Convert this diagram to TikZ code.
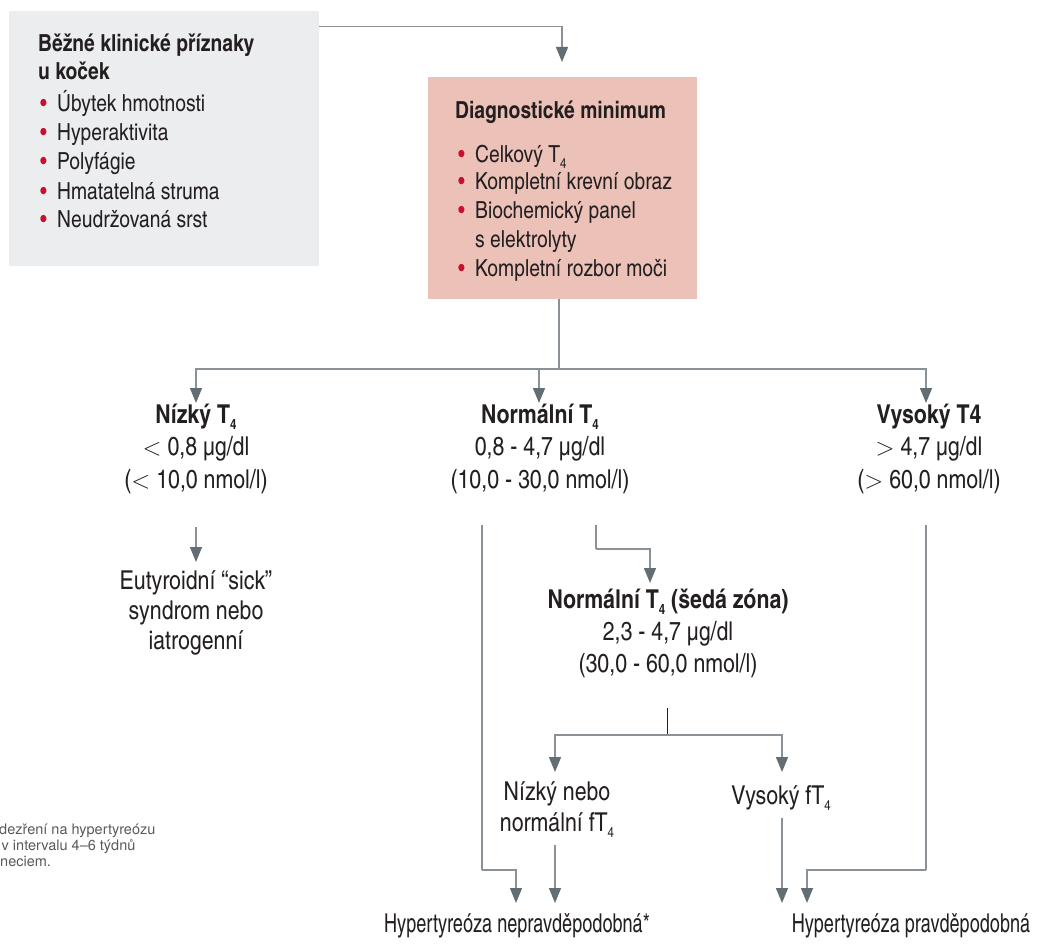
\documentclass[tikz,border=0pt]{standalone}
\usepackage{fontspec}
\setmainfont{texgyreheroscn}[Extension=.otf,UprightFont=*-regular,BoldFont=*-bold,ItalicFont=*-italic,BoldItalicFont=*-bolditalic]
\newfontfamily\cnnarrow{texgyreheroscn}[Extension=.otf,UprightFont=*-regular,FakeStretch=0.85]
\newfontfamily\notefont{TeX Gyre Heros}
\usetikzlibrary{arrows.meta}
\definecolor{txtc}{HTML}{231F20}
\definecolor{linec}{HTML}{8A9298}
\definecolor{tipc}{HTML}{636D74}
\definecolor{bulc}{HTML}{C8102E}
\definecolor{grayfill}{HTML}{ECEDEF}
\definecolor{pinkfill}{HTML}{EBC1B8}
\definecolor{notec}{HTML}{58595B}
\newcommand\tfour{\raisebox{-6pt}{\fontsize{14}{14}\selectfont 4}}
\newcommand\bul{\makebox[17pt][l]{\textcolor{bulc}{\textbullet}}}
\begin{document}
\begin{tikzpicture}[x=1pt,y=-1pt,
  ln/.style={draw=linec,line width=1.4pt},
  blk/.style={draw=txtc,line width=1pt},
  arr/.style={ln,-{Triangle[width=12pt,length=15pt,color=tipc]}},
  lbl/.style={inner sep=0pt,anchor=base,text=txtc},
  hd/.style={lbl,font=\fontsize{26}{30}\selectfont\bfseries},
  bd/.style={lbl,font=\fontsize{26}{30}\selectfont},
  bt/.style={lbl,font=\cnnarrow\fontsize{26}{30}\selectfont},
  bx/.style={lbl,anchor=base west,font=\fontsize{23.5}{28}\selectfont},
  bxb/.style={bx,font=\fontsize{23.5}{28}\selectfont\bfseries},
  note/.style={inner sep=0pt,anchor=base west,text=notec,font=\notefont\fontsize{14.5}{16}\selectfont},
  panel/.style={anchor=north west,inner sep=0pt}]
\useasboundingbox (0,0) rectangle (1043,947);
% boxes
\node[panel,fill=grayfill,minimum width=310pt,minimum height=255pt] (gbox) at (9,11) {};
\node[panel,fill=pinkfill,minimum width=269pt,minimum height=222pt] (pbox) at (428,77) {};
% gray box text
\node[bxb] (g1) at (38,52) {Běžné klinické příznaky};
\node[bxb] (g2) at (38,80) {u koček};
\node[bx] (g3) at (40,112) {\bul Úbytek hmotnosti};
\node[bx] (g4) at (40,140) {\bul Hyperaktivita};
\node[bx] (g5) at (40,169) {\bul Polyfágie};
\node[bx] (g6) at (40,199) {\bul Hmatatelná struma};
\node[bx] (g7) at (40,227) {\bul Neudržovaná srst};
% pink box text
\node[bxb] (p0) at (455,119) {Diagnostické minimum};
\node[bx] (p1) at (458,162) {\bul Celkový T\tfour};
\node[bx] (p2) at (458,189) {\bul Kompletní krevní obraz};
\node[bx] (p3) at (458,218) {\bul Biochemický panel};
\node[bx] (p4) at (475,247) {s elektrolyty};
\node[bx] (p5) at (458,276) {\bul Kompletní rozbor moči};
% branch texts
\node[hd] (n1) at (196,423) {Nízký T\tfour};
\node[bd] (n2) at (196,455) {$<$ 0,8 µg/dl};
\node[bd] (n3) at (196,488) {($<$ 10,0 nmol/l)};
\node[bd] (e1) at (196,589) {Eutyroidní “sick”};
\node[bd] (e2) at (196,619) {syndrom nebo};
\node[bd] (e3) at (196,649) {iatrogenní};
\node[hd] (m1) at (540,423) {Normální T\tfour};
\node[bd] (m2) at (540,455) {0,8 - 4,7 µg/dl};
\node[bd] (m3) at (540,488) {(10,0 - 30,0 nmol/l)};
\node[hd] (v1) at (929,423) {Vysoký T4};
\node[bd] (v2) at (929,455) {$>$ 4,7 µg/dl};
\node[bd] (v3) at (929,488) {($>$ 60,0 nmol/l)};
\node[hd] (s1) at (668,608) {Normální T\tfour{} (šedá zóna)};
\node[bd] (s2) at (668,640) {2,3 - 4,7 µg/dl};
\node[bd] (s3) at (668,672) {(30,0 - 60,0 nmol/l)};
\node[bd] (f1) at (557,800) {Nízký nebo};
\node[bd] (f2) at (557,831) {normální fT\tfour};
\node[bd] (h1) at (781,804) {Vysoký fT\tfour};
\node[bt] (r1) at (517,932) {Hypertyreóza nepravděpodobná*};
\node[bt] (r2) at (911,932) {Hypertyreóza pravděpodobná};
% footnote
\node[note] (fn1) at (-1,834) {dezření na hypertyreózu};
\node[note] (fn2) at (1.5,850) {v intervalu 4–6 týdnů};
\node[note] (fn3) at (0,866) {neciem.};
% coordinates
\coordinate (tp) at (562,62);
\coordinate (pb) at (559,299);
\coordinate (j1) at (559,369);
\coordinate (a1) at (196,403);
\coordinate (a2) at (539,403);
\coordinate (a3) at (926,403);
\coordinate (eb) at (196,527);
\coordinate (et) at (196,562);
\coordinate (l0) at (482,525);
\coordinate (l1) at (482,870);
\coordinate (lt) at (516,903);
\coordinate (q0) at (596,525);
\coordinate (q1) at (596,549);
\coordinate (qt) at (650,583);
\coordinate (s0) at (667,708);
\coordinate (sj) at (667,735);
\coordinate (ft) at (555,772);
\coordinate (ht) at (782,772);
\coordinate (f3) at (555,845);
\coordinate (f4) at (555,903);
\coordinate (h2) at (782,818);
\coordinate (h3) at (782,903);
\coordinate (w0) at (926,525);
\coordinate (w1) at (926,870);
\coordinate (wt) at (807,903);
% connectors
\draw[arr] ([yshift=-15.5pt]gbox.north east) -| (tp);
\draw[ln] (pb) -- (j1);
\draw[arr] (j1) -| (a1);
\draw[arr] (j1) -| (a3);
\draw[arr] (a2 |- j1) -- (a2);
\draw[arr] (eb) -- (et);
\draw[ln] (l0) -- (l1);
\draw[arr] (l1) -| (lt);
\draw[ln] (q0) -- (q1);
\draw[arr] (q1) -| (qt);
\draw[blk] (s0) -- (sj);
\draw[arr] (sj) -| (ft);
\draw[arr] (sj) -| (ht);
\draw[arr] (f3) -- (f4);
\draw[arr] (h2) -- (h3);
\draw[ln] (w0) -- (w1);
\draw[arr] (w1) -| (wt);
\end{tikzpicture}
\end{document}
